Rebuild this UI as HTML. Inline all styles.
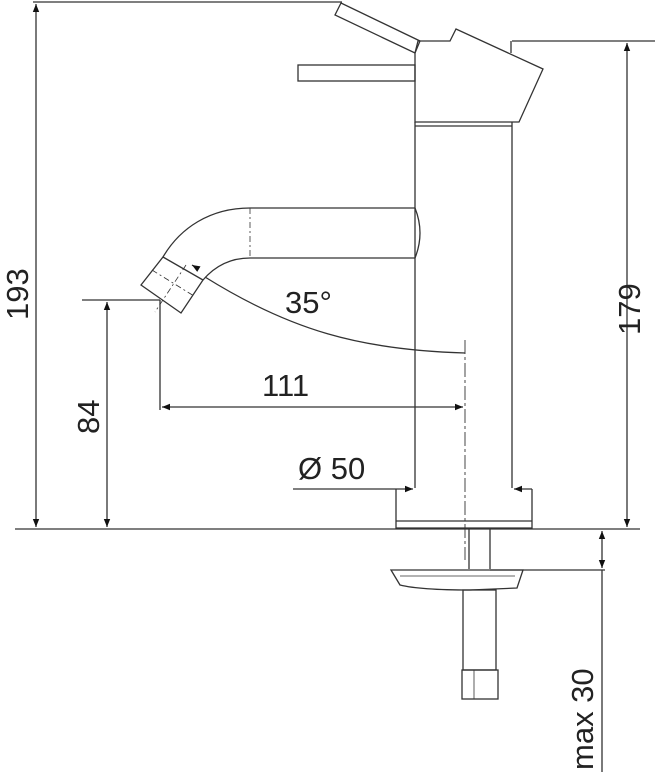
<!DOCTYPE html>
<html><head><meta charset="utf-8"><style>
html,body{margin:0;padding:0;background:#fff;}
svg{display:block}
text{font-family:"Liberation Sans",sans-serif;fill:#222;}
</style></head><body>
<svg width="655" height="772" viewBox="0 0 655 772" xmlns="http://www.w3.org/2000/svg">
<defs>
<marker id="a" viewBox="0 0 10 10" refX="10" refY="5" markerWidth="12" markerHeight="8" orient="auto-start-reverse" markerUnits="userSpaceOnUse"><path d="M0,1 L10,5 L0,9 z" fill="#111"/></marker>
</defs>
<g stroke="#333" stroke-width="1.3" fill="none">
<line x1="33" y1="2" x2="342" y2="2"/>
<line x1="15" y1="529" x2="640" y2="529"/>
<line x1="512" y1="41" x2="655" y2="41"/>
<line x1="82" y1="300" x2="160" y2="300"/>
<line x1="36" y1="4" x2="36" y2="527" marker-start="url(#a)" marker-end="url(#a)"/>
<line x1="107" y1="302" x2="107" y2="527" marker-start="url(#a)" marker-end="url(#a)"/>
<line x1="627" y1="43" x2="627" y2="527" marker-start="url(#a)" marker-end="url(#a)"/>
<polygon points="415,53 415,122 519,122 543,69 456,29 450,41 418,41"/>
<line x1="511" y1="41" x2="511" y2="53"/>
<polygon points="341,3 335,15 415,53 420,41"/>
<rect x="298" y="65" width="117" height="16"/>
<line x1="415" y1="126" x2="512" y2="126"/>
<line x1="415" y1="122" x2="415" y2="488"/>
<line x1="512" y1="122" x2="512" y2="488"/>
<path d="M415,208 L250,208 C210,208 180,228 163,257"/>
<path d="M415,258 L250,258 C230,258 215,266 203,280"/>
<path d="M415,208 Q425,233 415,258"/>
<polygon points="141,285 163,257 203,280 181,313"/>
<line x1="250" y1="208" x2="250" y2="258" stroke-dasharray="6,3,2,3" stroke-width="0.8"/>
<line x1="152" y1="270" x2="194" y2="296" stroke-dasharray="6,3,2,3" stroke-width="0.8"/>
<line x1="186" y1="265" x2="155" y2="312" stroke-dasharray="6,3,2,3" stroke-width="0.8"/>
<path d="M205,277 C290,330 360,350 465,353"/>
<path d="M197,268 L192,265" marker-end="url(#a)"/>
<line x1="465" y1="340" x2="465" y2="560" stroke-dasharray="14,3,3,3" stroke-width="0.9"/>
<line x1="160" y1="300" x2="160" y2="410"/>
<line x1="162" y1="407" x2="463" y2="407" marker-start="url(#a)" marker-end="url(#a)"/>
<line x1="293" y1="489" x2="413" y2="489" marker-end="url(#a)"/>
<line x1="532" y1="489" x2="514" y2="489" marker-end="url(#a)"/>
<polyline points="396,489 396,528 532,528 532,489"/>
<line x1="396" y1="521" x2="532" y2="521"/>
<line x1="469" y1="529" x2="469" y2="569"/>
<line x1="490" y1="529" x2="490" y2="569"/>
<path d="M391,570 L523,570 L517,588 L470,590 Q420,590 400,585 Z"/>
<line x1="400" y1="576" x2="515" y2="576" stroke-width="0.8"/>
<rect x="463" y="590" width="33" height="80"/>
<rect x="462" y="670" width="36" height="29"/>
<line x1="474" y1="670" x2="474" y2="699" stroke-width="0.8"/>
<line x1="490" y1="570" x2="605" y2="570"/>
<line x1="602" y1="531" x2="602" y2="568" marker-start="url(#a)" marker-end="url(#a)"/>
<line x1="602" y1="570" x2="602" y2="772"/>
</g>
<text x="285" y="313" font-size="31">35°</text>
<text x="262" y="396" font-size="31">111</text>
<text x="298" y="479" font-size="31">Ø 50</text>
<text transform="translate(28,320) rotate(-90)" font-size="31">193</text>
<text transform="translate(99,434) rotate(-90)" font-size="31">84</text>
<text transform="translate(640,335) rotate(-90)" font-size="31">179</text>
<text transform="translate(593,770) rotate(-90)" font-size="31">max 30</text>
</svg>
</body></html>
